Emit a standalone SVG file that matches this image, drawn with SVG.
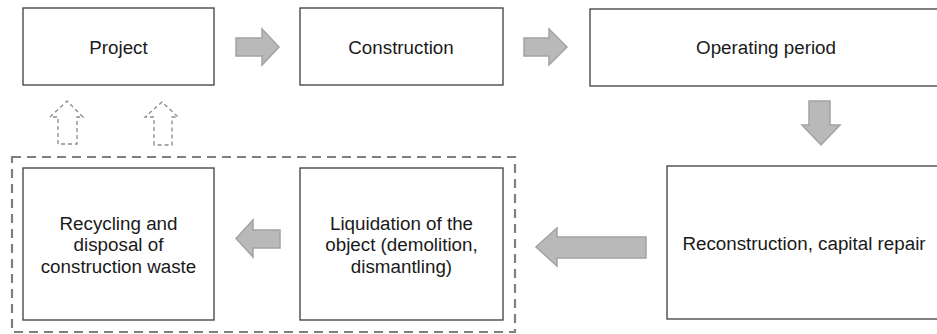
<svg xmlns="http://www.w3.org/2000/svg" width="937" height="334" viewBox="0 0 937 334">
<style>
.box{fill:#fff;stroke:#3c3c3c;stroke-width:1.3}
.lbl{font-family:"Liberation Sans",Arial,sans-serif;font-size:18.8px;fill:#1a1a1a;text-anchor:middle}
.arr{fill:#b9b9b9;stroke:#a3a3a3;stroke-width:1.5;stroke-linejoin:miter}
.darr{fill:none;stroke:#8a8a8a;stroke-width:1.3;stroke-dasharray:4 3}
.group{fill:none;stroke:#7f7f7f;stroke-width:2.2;stroke-dasharray:9 6}
</style>
<rect width="937" height="334" fill="#fff"/>
<rect class="group" x="12" y="157" width="503" height="175"/>
<g id="project"><rect class="box" x="23" y="8" width="191" height="77"/><text class="lbl" x="118.5" y="53.5">Project</text></g>
<g id="construction"><rect class="box" x="300" y="8" width="203" height="77"/><text class="lbl" x="401" y="53.5">Construction</text></g>
<g id="operating"><rect class="box" x="590" y="9" width="360" height="77"/><text class="lbl" x="766" y="53.5">Operating period</text></g>
<g id="reconstruction"><rect class="box" x="667" y="166" width="290" height="153"/><text class="lbl" x="804" y="249.5">Reconstruction, capital repair</text></g>
<g id="liquidation"><rect class="box" x="300" y="168" width="203" height="152"/><text class="lbl" x="401.5" y="229.5">Liquidation of the</text><text class="lbl" x="401.5" y="251">object (demolition,</text><text class="lbl" x="401.5" y="272.5">dismantling)</text></g>
<g id="recycling"><rect class="box" x="23" y="168" width="191" height="152"/><text class="lbl" x="118.5" y="229.5">Recycling and</text><text class="lbl" x="118.5" y="251">disposal of</text><text class="lbl" x="118.5" y="272.5">construction waste</text></g>
<g id="connectors">
<polygon class="arr" points="236,38 262,38 262,29 279,47 262,65 262,56 236,56"/>
<polygon class="arr" points="524,38 549,38 549,29 567,47 549,65 549,56 524,56"/>
<polygon class="arr" points="809,101 830,101 830,125 840,125 821,145 802,125 809,125"/>
<polygon class="arr" points="646,237 557,237 557,228 536,247 557,266 557,258 646,258"/>
<polygon class="arr" points="280,230 253,230 253,220 236,238.5 253,257 253,248 280,248"/>
<polygon class="darr" points="58,144 58,117 50,117 67,101 83,117 77,117 77,144"/>
<polygon class="darr" points="154,145 154,117 145,117 162,102 178,117 172,117 172,145"/>
</g>
</svg>
